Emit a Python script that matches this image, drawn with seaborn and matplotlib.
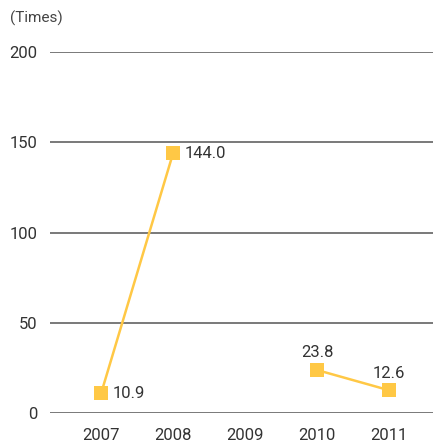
import numpy as np
import pandas as pd
import matplotlib
matplotlib.use("Agg")
import matplotlib.pyplot as plt
import seaborn as sns

years = [2007, 2008, 2009, 2010, 2011]
values = [10.9, 144.0, np.nan, 23.8, 12.6]
value_labels = ["10.9", "144.0", "", "23.8", "12.6"]
yticks = [0, 50, 100, 150, 200]

sns.set_theme(style="white")
plt.rcParams["font.family"] = ["Roboto", "DejaVu Sans"]

# split the series into runs so the gap year breaks the line
segment = np.cumsum(np.isnan(values))
df = pd.DataFrame({"year": years, "value": values, "segment": segment}).dropna()

fig = plt.figure(figsize=(4.33, 4.42), dpi=100)
ax = fig.add_axes([0.1155, 0.0656, 0.8845, 0.8167])

line_color = "#FFC845"
sns.lineplot(data=df, x="year", y="value", units="segment", estimator=None,
             color=line_color, linewidth=1.8, marker="s", markersize=9.5,
             markeredgewidth=0, ax=ax)

for y in yticks:
    ax.axhline(y, color="#555555", linewidth=1.1, zorder=0)

ax.set_xlim(2006.29, 2011.61)
ax.set_ylim(0, 200)
ax.set_yticks(yticks)
ax.set_xticks(years)
ax.set_xticklabels([str(y) for y in years])
ax.tick_params(axis="both", length=0, labelsize=12, labelcolor="#333333")
ax.tick_params(axis="y", pad=9)
ax.tick_params(axis="x", pad=11)
ax.set_xlabel("")
ax.set_ylabel("")
for s in ax.spines.values():
    s.set_visible(False)

# value labels: right of the marker for 2007/2008, above for 2010/2011
for yr, v, lab in zip(years, values, value_labels):
    if np.isnan(v):
        continue
    if yr in (2007, 2008):
        ax.annotate(lab, (yr, v), xytext=(8, 0), textcoords="offset points",
                    ha="left", va="center", fontsize=12, color="#333333")
    else:
        ax.annotate(lab, (yr, v), xytext=(0, 7), textcoords="offset points",
                    ha="center", va="bottom", fontsize=12, color="#333333")

fig.text(10 / 433, 1 - 18 / 442, "(Times)", ha="left", va="center",
         fontsize=11, color="#444444")

fig.savefig("out.png", dpi=100)
